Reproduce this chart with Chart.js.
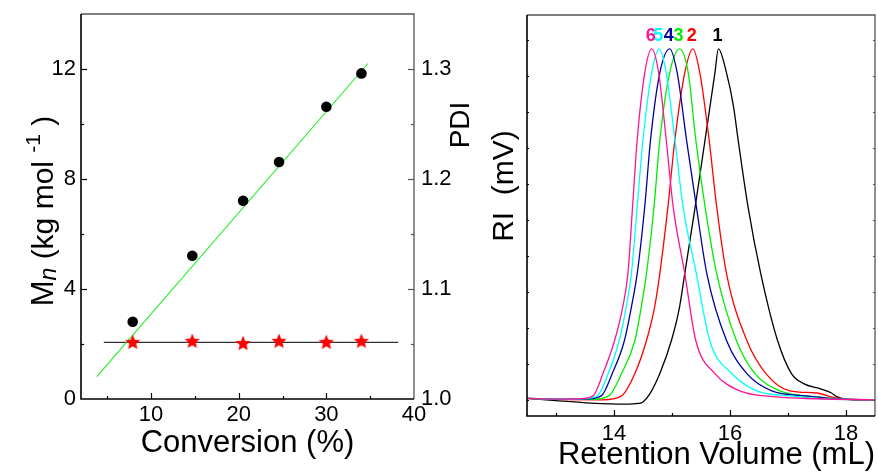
<!DOCTYPE html>
<html><head><meta charset="utf-8">
<script src="https://cdn.jsdelivr.net/npm/chart.js@4/dist/chart.umd.min.js"></script>
<style>
html,body{margin:0;padding:0;background:#fff;}
#wrap{position:relative;width:878px;height:472px;overflow:hidden;background:#fff;}
#c1{position:absolute;left:0;top:0;}
#c2{position:absolute;left:480px;top:0;}
</style></head><body>
<div id="wrap">
<canvas id="c1" width="480" height="472"></canvas>
<canvas id="c2" width="398" height="472"></canvas>
</div>
<script>
// ---------- Left panel data ----------
const conversion = [7.9, 14.7, 20.5, 24.6, 30.0, 34.0];
const mnValues   = [2.81, 5.21, 7.21, 8.62, 10.63, 11.84];
const pdiValues  = [1.052, 1.053, 1.051, 1.053, 1.052, 1.053];
const mnFitX  = [3.8, 34.75];
const mnFitY  = [0.81, 12.2];
const pdiFitX = [4.6, 38.2];
const pdiFitY = [1.0515, 1.0515];
const convTicks = [10, 20, 30, 40];
const mnTicks   = [0, 4, 8, 12];
const pdiTicks  = [1.0, 1.1, 1.2, 1.3];

// ---------- Right panel data (GPC traces) ----------
const traceLabels = ['1', '2', '3', '4', '5', '6'];
const trace1 = [[12.5,0.004],[13.0,-0.002],[13.6,-0.009],[14.2,-0.012],[14.42,-0.010],[14.5,-0.006],[14.62,0.017],[14.79,0.073],[14.99,0.165],[15.13,0.258],[15.22,0.351],[15.31,0.444],[15.40,0.537],[15.57,0.723],[15.74,0.909],[15.80,0.976],[15.94,0.909],[16.06,0.816],[16.14,0.723],[16.31,0.537],[16.53,0.351],[16.82,0.165],[17.06,0.073],[17.27,0.045],[17.55,0.031],[17.75,0.019],[17.84,0.009],[18.19,0.0],[18.5,0.0]];
const trace2 = [[12.5,0.004],[13.0,0.001],[13.8,0.0],[14.13,0.011],[14.36,0.073],[14.56,0.165],[14.70,0.258],[14.79,0.351],[14.93,0.537],[15.05,0.723],[15.22,0.909],[15.36,0.976],[15.48,0.909],[15.64,0.723],[15.77,0.537],[15.94,0.351],[16.29,0.165],[16.62,0.073],[17.03,0.025],[17.50,0.019],[17.78,0.007],[18.19,0.0],[18.5,0.0]];
const trace3 = [[12.5,0.004],[13.0,0.002],[13.6,0.001],[13.91,0.011],[14.13,0.073],[14.36,0.165],[14.47,0.258],[14.56,0.351],[14.69,0.537],[14.79,0.723],[14.96,0.909],[15.13,0.976],[15.28,0.909],[15.41,0.723],[15.57,0.537],[15.77,0.351],[16.11,0.165],[16.43,0.073],[16.86,0.025],[17.50,0.008],[18.0,0.002],[18.5,0.0]];
const trace4 = [[12.5,0.004],[13.0,0.002],[13.5,0.002],[13.78,0.011],[13.97,0.073],[14.18,0.165],[14.30,0.258],[14.40,0.351],[14.53,0.537],[14.63,0.723],[14.79,0.909],[14.96,0.976],[15.09,0.909],[15.25,0.723],[15.42,0.537],[15.60,0.351],[15.94,0.165],[16.29,0.073],[16.72,0.025],[17.32,0.011],[17.8,0.003],[18.5,0.0]];
const trace5 = [[12.5,0.004],[13.0,0.002],[13.45,0.003],[13.71,0.011],[13.90,0.073],[14.09,0.165],[14.21,0.258],[14.30,0.351],[14.40,0.537],[14.50,0.723],[14.65,0.909],[14.78,0.976],[14.90,0.909],[15.05,0.723],[15.19,0.537],[15.42,0.351],[15.65,0.165],[16.03,0.073],[16.46,0.025],[17.03,0.011],[17.6,0.003],[18.5,0.0]];
const trace6 = [[12.5,0.004],[13.0,0.002],[13.4,0.003],[13.64,0.011],[13.81,0.073],[14.01,0.165],[14.15,0.258],[14.24,0.351],[14.32,0.537],[14.40,0.723],[14.53,0.909],[14.65,0.976],[14.77,0.909],[14.90,0.723],[15.02,0.537],[15.22,0.351],[15.41,0.165],[15.74,0.073],[16.17,0.025],[16.80,0.008],[17.5,0.003],[18.5,0.0]];
const traceColors = ['#000000', '#FF0000', '#00EE00', '#0000A0', '#00FFFF', '#FF1493'];
const rvTicks = [14, 16, 18];
const riTicks = [0, 0.1, 0.2, 0.3, 0.4, 0.5, 0.6, 0.7, 0.8, 0.9, 1.0];

const F = "'Liberation Sans', Arial, Helvetica, sans-serif";

function starImage(size, color) {
  const c = document.createElement('canvas');
  c.width = c.height = size;
  const g = c.getContext('2d');
  const cx = size / 2, cy = size / 2 + 0.8, R = size / 2, r = R * 0.45;
  g.beginPath();
  for (let i = 0; i < 10; i++) {
    const ang = -Math.PI / 2 + i * Math.PI / 5;
    const rad = i % 2 ? r : R;
    g.lineTo(cx + rad * Math.cos(ang), cy + rad * Math.sin(ang));
  }
  g.closePath();
  g.fillStyle = color;
  g.fill();
  return c;
}

function pts(xs, ys) { return xs.map((x, i) => ({x: x, y: ys[i]})); }

function frameAndTicks(specs) {
  return {
    id: 'frameTicks',
    afterDatasetsDraw(chart) {
      const ctx = chart.ctx, a = chart.chartArea;
      ctx.save();
      ctx.lineWidth = 1.3;
      ctx.strokeStyle = '#555';
      ctx.beginPath();
      ctx.moveTo(a.left, a.top); ctx.lineTo(a.right, a.top); ctx.lineTo(a.right, a.bottom);
      ctx.stroke();
      ctx.lineWidth = 1.6;
      ctx.strokeStyle = '#000';
      ctx.beginPath();
      ctx.moveTo(a.left, a.top); ctx.lineTo(a.left, a.bottom); ctx.lineTo(a.right, a.bottom);
      ctx.stroke();
      ctx.lineWidth = 1.2;
      for (const t of specs) {
        const s = chart.scales[t.axis];
        ctx.strokeStyle = t.color || '#000';
        for (const v of t.values) {
          const p = Math.round(s.getPixelForValue(v)) + 0.5;
          ctx.beginPath();
          if (t.side === 'bottom') { ctx.moveTo(p, a.bottom); ctx.lineTo(p, a.bottom - t.len); }
          else if (t.side === 'left') { ctx.moveTo(a.left, p); ctx.lineTo(a.left + t.len, p); }
          else { ctx.moveTo(a.right, p); ctx.lineTo(a.right - t.len, p); }
          ctx.stroke();
        }
      }
      ctx.restore();
    }
  };
}

function mids(arr) { const r = []; for (let i = 0; i < arr.length - 1; i++) r.push((arr[i] + arr[i + 1]) / 2); return r; }
function fixBox(w, h) {
  return s => {
    if (w !== null) s.width = w;
    if (h !== null) s.height = h;
    s.paddingTop = 0; s.paddingBottom = 0; s.paddingLeft = 0; s.paddingRight = 0;
  };
}

// ---------- Left chart ----------
const leftTitles = {
  id: 'leftTitles',
  afterDraw(chart) {
    const ctx = chart.ctx;
    ctx.save();
    ctx.fillStyle = '#000';
    ctx.translate(53, 211);
    ctx.rotate(-Math.PI / 2);
    const parts = [
      {t: 'M', f: `31px ${F}`, dy: 0},
      {t: 'n', f: `italic 23px ${F}`, dy: 3},
      {t: ' (kg mol ', f: `30px ${F}`, dy: 0},
      {t: '-1', f: `21px ${F}`, dy: -13},
      {t: ' )', f: `30px ${F}`, dy: 0}
    ];
    let total = 0;
    parts.forEach(p => { ctx.font = p.f; p.w = ctx.measureText(p.t).width; total += p.w; });
    let x = -total / 2;
    ctx.textBaseline = 'alphabetic';
    parts.forEach(p => { ctx.font = p.f; ctx.fillText(p.t, x, p.dy); x += p.w; });
    ctx.restore();
    ctx.save();
    ctx.fillStyle = '#000';
    ctx.translate(461, 125);
    ctx.rotate(-Math.PI / 2);
    ctx.font = `28px ${F}`;
    ctx.textAlign = 'center';
    ctx.textBaseline = 'middle';
    ctx.fillText('PDI', 0, 0);
    ctx.restore();
  }
};

new Chart(document.getElementById('c1'), {
  type: 'scatter',
  data: {
    datasets: [
      {data: pts(conversion, pdiValues), yAxisID: 'y2', pointStyle: starImage(16, '#FF0000'), pointRadius: 8, showLine: false, order: 1},
      {data: pts(conversion, mnValues), yAxisID: 'y', pointStyle: 'circle', pointRadius: 5.3, backgroundColor: '#000', borderColor: '#000', borderWidth: 0, showLine: false, order: 2},
      {data: pts(mnFitX, mnFitY), yAxisID: 'y', showLine: true, borderColor: '#22EE22', borderWidth: 1.1, pointRadius: 0, order: 3},
      {data: pts(pdiFitX, pdiFitY), yAxisID: 'y2', showLine: true, borderColor: '#333', borderWidth: 1.4, pointRadius: 0, order: 4}
    ]
  },
  options: {
    responsive: false, animation: false, devicePixelRatio: 1,
    layout: {padding: {top: 14, left: 0, right: 0, bottom: 0}},
    plugins: {legend: {display: false}, tooltip: {enabled: false}},
    scales: {
      x: {
        type: 'linear', min: 2, max: 40,
        afterBuildTicks: s => { s.ticks = convTicks.map(v => ({value: v})); },
        afterFit: fixBox(null, 73),
        grid: {display: false, drawTicks: false}, border: {display: false},
        ticks: {font: {size: 22, family: F}, color: '#000', padding: 3, maxRotation: 0, autoSkip: false},
        title: {display: true, text: 'Conversion (%)', color: '#000', font: {size: 31, family: F, lineHeight: 1}, padding: {top: 0, bottom: 13}}
      },
      y: {
        type: 'linear', position: 'left', min: 0, max: 14,
        afterBuildTicks: s => { s.ticks = mnTicks.map(v => ({value: v})); },
        afterFit: fixBox(81, null),
        grid: {display: false, drawTicks: false}, border: {display: false},
        ticks: {font: {size: 22, family: F}, color: '#000', padding: 5}
      },
      y2: {
        type: 'linear', position: 'right', min: 1.0, max: 1.35,
        afterBuildTicks: s => { s.ticks = pdiTicks.map(v => ({value: v})); },
        afterFit: fixBox(66, null),
        grid: {display: false, drawTicks: false}, border: {display: false},
        ticks: {font: {size: 22, family: F}, color: '#000', padding: 7, callback: v => Number(v).toFixed(1)}
      }
    }
  },
  plugins: [frameAndTicks([
    {axis: 'y', side: 'left', values: mnTicks.slice(1), len: 6},
    {axis: 'y', side: 'left', values: mids(mnTicks), len: 3},
    {axis: 'y2', side: 'right', values: pdiTicks.slice(1), len: 6, color: '#555'},
    {axis: 'y2', side: 'right', values: mids(pdiTicks), len: 3, color: '#555'},
    {axis: 'x', side: 'bottom', values: convTicks.slice(0, 3), len: 6},
    {axis: 'x', side: 'bottom', values: [5].concat(mids(convTicks)), len: 3}
  ]), leftTitles]
});

// ---------- Right chart ----------
const traces = [trace1, trace2, trace3, trace4, trace5, trace6];
const rightDecor = {
  id: 'rightDecor',
  afterDraw(chart) {
    const ctx = chart.ctx;
    const xs = chart.scales.x, ys = chart.scales.y;
    ctx.save();
    ctx.font = `bold 18px ${F}`;
    ctx.textAlign = 'center';
    ctx.textBaseline = 'middle';
    chart.data.datasets.forEach((ds) => {
      let best = ds.data[0];
      ds.data.forEach(p => { if (p.y > best.y) best = p; });
      ctx.fillStyle = ds.borderColor;
      ctx.fillText(ds.label, xs.getPixelForValue(best.x) - 1, ys.getPixelForValue(best.y) - 13);
    });
    ctx.restore();
    ctx.save();
    ctx.fillStyle = '#000';
    ctx.translate(25, 186);
    ctx.rotate(-Math.PI / 2);
    ctx.font = `30px ${F}`;
    ctx.textAlign = 'center';
    ctx.textBaseline = 'middle';
    ctx.fillText('RI  (mV)', 0, 0);
    ctx.restore();
  }
};

new Chart(document.getElementById('c2'), {
  type: 'scatter',
  data: {
    datasets: traces.map((tr, i) => ({
      label: traceLabels[i],
      data: tr.map(p => ({x: p[0], y: p[1]})),
      showLine: true, borderColor: traceColors[i], borderWidth: 1.3,
      pointRadius: 0, cubicInterpolationMode: 'monotone', order: 6 - i
    }))
  },
  options: {
    responsive: false, animation: false, devicePixelRatio: 1,
    layout: {padding: {top: 15, left: 0, right: 3, bottom: 0}},
    plugins: {legend: {display: false}, tooltip: {enabled: false}},
    scales: {
      x: {
        type: 'linear', min: 12.5, max: 18.5,
        afterBuildTicks: s => { s.ticks = rvTicks.map(v => ({value: v})); },
        afterFit: fixBox(null, 56),
        grid: {display: false, drawTicks: false}, border: {display: false},
        ticks: {font: {size: 22, family: F}, color: '#000', padding: 5, maxRotation: 0, autoSkip: false},
        title: {display: true, text: 'Retention Volume (mL)', align: 'end', color: '#000', font: {size: 31, family: F, lineHeight: 1}, padding: {top: 0, bottom: 1}}
      },
      y: {
        type: 'linear', position: 'left', min: -0.045, max: 1.07,
        afterBuildTicks: s => { s.ticks = riTicks.map(v => ({value: v})); },
        afterFit: fixBox(47, null),
        grid: {display: false, drawTicks: false}, border: {display: false},
        ticks: {display: false}
      }
    }
  },
  plugins: [frameAndTicks([
    {axis: 'x', side: 'bottom', values: rvTicks, len: 6},
    {axis: 'x', side: 'bottom', values: [13, 15, 17], len: 3},
    {axis: 'y', side: 'left', values: riTicks, len: 2},
    {axis: 'y', side: 'right', values: riTicks, len: 2, color: '#555'}
  ]), rightDecor]
});
</script>
</body></html>
